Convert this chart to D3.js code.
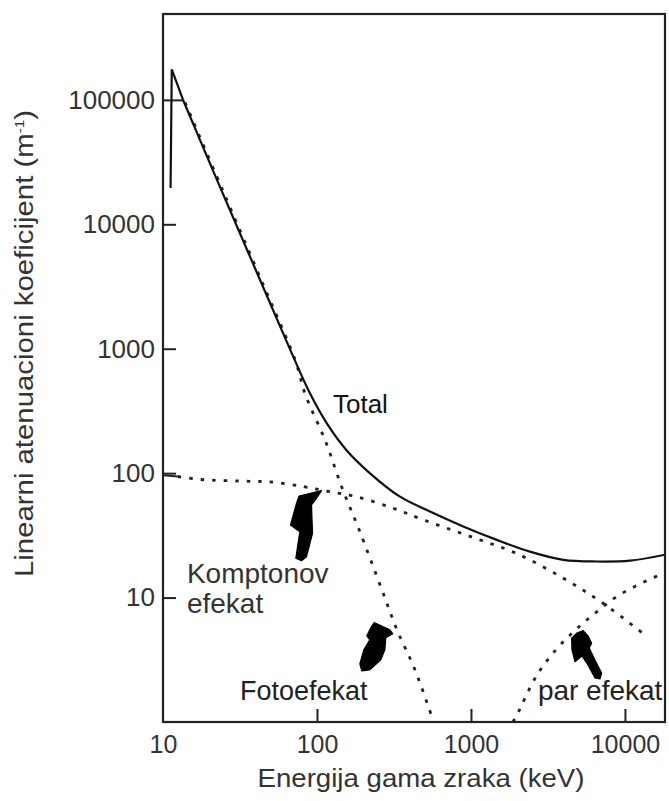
<!DOCTYPE html>
<html>
<head>
<meta charset="utf-8">
<script src="https://cdn.jsdelivr.net/npm/d3@7/dist/d3.min.js"></script>
<style>
  html, body { margin: 0; padding: 0; background: #fff; }
  svg { display: block; font-family: "Liberation Sans", Arial, Helvetica, sans-serif; }
</style>
</head>
<body>
<svg width="669" height="801"></svg>
<script>
// attenuation coefficients (keV, 1/m)
const energyTotal = [11.2, 11.4, 13.5, 23.4, 42.7, 70.1, 90, 115.6, 156, 221, 346, 542, 891, 1470, 2415, 3980, 6560, 10780, 18200];
const muTotal = [19600, 176000, 99800, 20100, 3570, 863, 438, 252, 152, 99.7, 64.7, 49.2, 37.3, 29.1, 23.4, 20.1, 19.5, 19.8, 22.1];

const energyCompton = [10, 12.5, 17.4, 36.7, 49.5, 81.5, 121, 180, 313, 490, 986, 1982, 3980, 7200, 13500];
const muCompton = [96, 94, 89, 86, 85, 78, 71, 64.7, 52.2, 42.2, 31, 22.6, 14.3, 9.0, 5.0];

const energyPhoto = [13.5, 23.4, 42.7, 70.1, 81.5, 110, 141, 182, 256, 321, 420, 558];
const muPhoto = [97000, 19800, 3500, 820, 438, 185, 78, 35.9, 11.8, 5.6, 2.68, 1.0];

const energyPair = [1875, 1990, 2690, 3620, 4870, 6580, 9290, 16900];
const muPair = [1.0, 1.14, 2.4, 3.89, 5.62, 7.7, 10.6, 15.3];

const xTicks = [10, 100, 1000, 10000];
const yTicks = [10, 100, 1000, 10000, 100000];

const xTitle = 'Energija gama zraka (keV)';
const yTitle = 'Linearni atenuacioni koeficijent  (m';

// label anchors in data units: [energy, mu]
const labelTotal = [127, 304];
const labelCompton = [14.3, 13.1];
const labelCompton2 = [14.3, 7.5];
const labelPhoto = [31.6, 1.5];
const labelPair = [2720, 1.5];

// arrow tips in data units
const arrowCompton = [107, 72.3];
const arrowPhoto = [235, 6.3];
const arrowPair = [5360, 5.42];

const svg = d3.select('svg');

const margin = { top: 14, right: 4, bottom: 79, left: 163 };
const width = 669 - margin.left - margin.right;
const height = 801 - margin.top - margin.bottom;

const x = d3.scaleLog().domain([10, 18200]).range([0, width]);
const y = d3.scaleLog().domain([1, 490000]).range([height, 0]);

const g = svg.append('g')
  .attr('transform', `translate(${margin.left},${margin.top})`);

g.append('clipPath').attr('id', 'plot-clip')
  .append('rect').attr('width', width).attr('height', height);

// axes with inward ticks
const yAxis = d3.axisLeft(y)
  .tickValues(yTicks)
  .tickFormat(d3.format('d'))
  .tickSize(-13)
  .tickPadding(8);

const xAxis = d3.axisBottom(x)
  .tickValues(xTicks)
  .tickFormat(d3.format('d'))
  .tickSize(-13)
  .tickPadding(13);

const yG = g.append('g').call(yAxis);
const xG = g.append('g').attr('transform', `translate(0,${height})`).call(xAxis);

[yG, xG].forEach(a => {
  a.select('.domain').remove();
  a.selectAll('.tick line').attr('stroke', '#222').attr('stroke-width', 2);
  a.selectAll('.tick text').attr('fill', '#333');
});
yG.selectAll('.tick text').style('font-size', '26px');
xG.selectAll('.tick text').style('font-size', '25px');
xG.selectAll('.tick').filter(d => d === 10).select('line').remove();
// the 100000 tick runs on into the edge of the total curve
yG.selectAll('.tick').filter(d => d === 100000).select('line').attr('x2', 20);

// frame
g.append('rect')
  .attr('width', width)
  .attr('height', height)
  .attr('fill', 'none')
  .attr('stroke', '#222')
  .attr('stroke-width', 2.2);

const curves = g.append('g').attr('clip-path', 'url(#plot-clip)');

const line = d3.line()
  .x(d => x(d[0]))
  .y(d => y(d[1]))
  .curve(d3.curveCatmullRom.alpha(0.5));

const zip = (a, b) => a.map((v, i) => [v, b[i]]);

const dotStyle = sel => sel
  .attr('fill', 'none')
  .attr('stroke', '#222')
  .attr('stroke-width', 2.8)
  .attr('stroke-dasharray', '3.5,8');

const compton = zip(energyCompton, muCompton);
curves.append('path')
  .datum(compton.slice(1))
  .attr('d', line)
  .call(dotStyle);
curves.append('path')
  .datum(compton.slice(0, 2))
  .attr('d', line)
  .attr('fill', 'none')
  .attr('stroke', '#222')
  .attr('stroke-width', 2);

curves.append('path')
  .datum(zip(energyPhoto, muPhoto))
  .attr('d', line)
  .call(dotStyle)
  .attr('transform', 'translate(2,1)');

curves.append('path')
  .datum(zip(energyPair, muPair))
  .attr('d', line)
  .call(dotStyle);

// total: the absorption edge is drawn straight, the rest smooth
const total = zip(energyTotal, muTotal);
curves.append('path')
  .datum(total.slice(0, 3))
  .attr('d', d3.line().x(d => x(d[0])).y(d => y(d[1])))
  .attr('fill', 'none')
  .attr('stroke', '#111')
  .attr('stroke-width', 2.2);
curves.append('path')
  .datum(total.slice(2))
  .attr('d', line)
  .attr('fill', 'none')
  .attr('stroke', '#111')
  .attr('stroke-width', 2.2);

// curved black arrows, shape offsets in px relative to the tip
const arrowShapes = {
  compton: [[0,0],[-5,7.6],[-10,14.3],[-9,42.6],[-15,66],[-20,70],[-25.7,67.6],[-21.7,41],[-31,34.3],[-25,12.6],[-22.4,5.3]],
  photo: [[0,0],[15.7,7.3],[18.7,11.3],[11.7,15.3],[10.7,27.3],[6.7,37.3],[-4.3,47.3],[-12.3,48.3],[-14.3,41.3],[-10.3,27.3],[-4.3,17.3],[-7.3,13.3],[-3.3,5.3]],
  pair: [[0,0],[4.7,5.3],[8.4,12.6],[6,17.3],[11.7,29.3],[18.4,42.3],[16.7,48.3],[11.7,47.3],[4.7,34.3],[-1.3,25.3],[-8.3,31],[-11.3,19.3],[-11.6,7.6],[-6.3,2.3]]
};
const arrowLine = d3.line().curve(d3.curveLinearClosed);
[[arrowCompton, 'compton'], [arrowPhoto, 'photo'], [arrowPair, 'pair']].forEach(([tip, key]) => {
  g.append('path')
    .attr('transform', `translate(${x(tip[0])},${y(tip[1])})`)
    .attr('d', arrowLine(arrowShapes[key]))
    .attr('fill', '#000')
    .attr('stroke', '#000')
    .attr('stroke-width', 1.2)
    .attr('stroke-linejoin', 'round');
});

// annotations
const note = (pos, txt, size, fill) => g.append('text')
  .attr('x', x(pos[0]))
  .attr('y', y(pos[1]))
  .attr('fill', fill)
  .style('font-size', size + 'px')
  .text(txt);

note(labelTotal, 'Total', 26, '#111');
note(labelCompton, 'Komptonov', 28, '#333');
note(labelCompton2, 'efekat', 28, '#333');
note(labelPhoto, 'Fotoefekat', 27, '#222');
note(labelPair, 'par efekat', 28, '#222');

// axis titles
svg.append('text')
  .attr('x', 421)
  .attr('y', 787)
  .attr('text-anchor', 'middle')
  .attr('fill', '#333')
  .attr('textLength', 327)
  .attr('lengthAdjust', 'spacingAndGlyphs')
  .style('font-size', '25px')
  .text(xTitle);

const yt = svg.append('text')
  .attr('transform', 'translate(33,343.5) rotate(-90)')
  .attr('text-anchor', 'middle')
  .attr('fill', '#333')
  .attr('textLength', 467)
  .attr('lengthAdjust', 'spacingAndGlyphs')
  .style('font-size', '25px');
yt.append('tspan').text(yTitle);
yt.append('tspan').attr('dy', -9).style('font-size', '13px').text('-1');
yt.append('tspan').attr('dy', 9).text(')');
</script>
</body>
</html>
